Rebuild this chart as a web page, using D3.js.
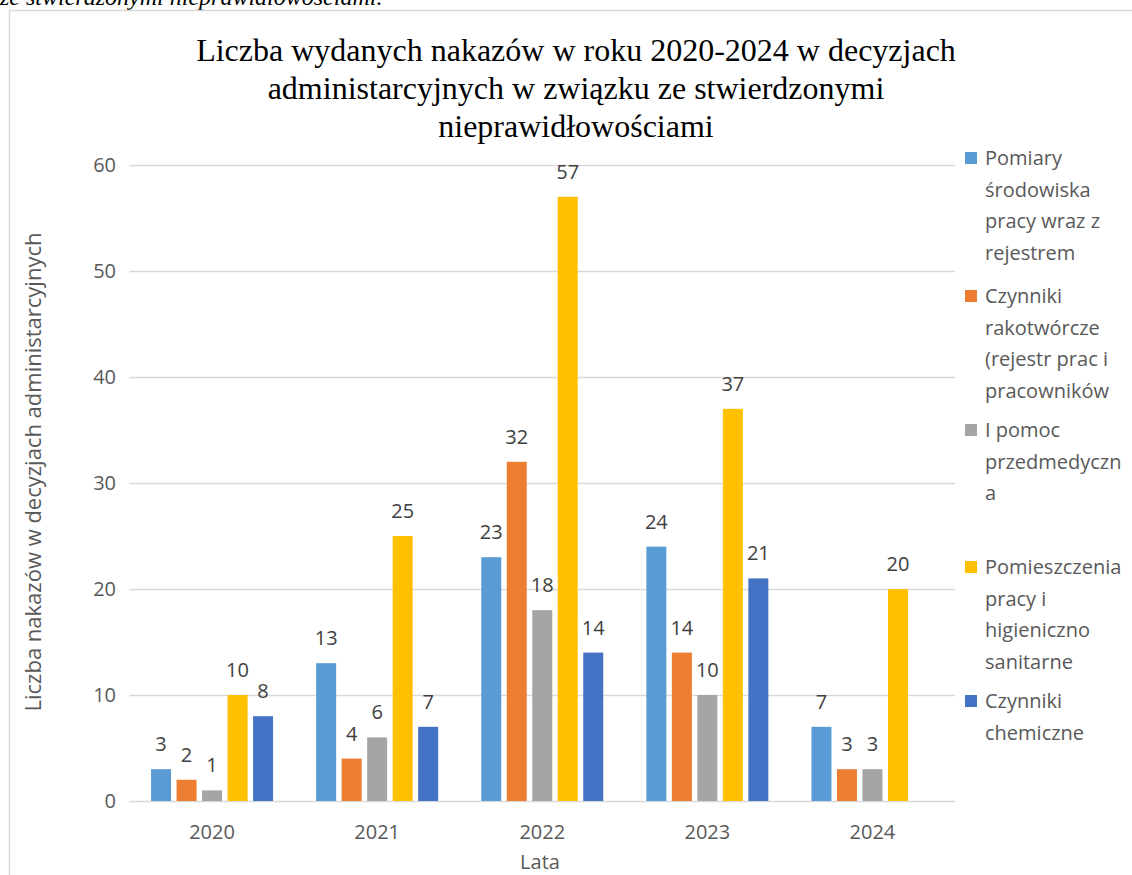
<!DOCTYPE html>
<html>
<head>
<meta charset="utf-8">
<script src="https://cdn.jsdelivr.net/npm/d3@7"></script>
<style>
body { margin: 0; background: #fff; }
svg { display: block; }
</style>
</head>
<body>
<div id="chart"></div>
<script>
// Data
var years = ["2020", "2021", "2022", "2023", "2024"];
var seriesNames = [
    ["Pomiary", "środowiska", "pracy wraz z", "rejestrem"],
    ["Czynniki", "rakotwórcze", "(rejestr prac i", "pracowników"],
    ["I pomoc", "przedmedyczn", "a"],
    ["Pomieszczenia", "pracy i", "higieniczno", "sanitarne"],
    ["Czynniki", "chemiczne"]
];
var pomiary = [3, 13, 23, 24, 7];
var rakotworcze = [2, 4, 32, 14, 3];
var pomoc = [1, 6, 18, 10, 3];
var pomieszczenia = [10, 25, 57, 37, 20];
var chemiczne = [8, 7, 14, 21, null];
var colors = ["#5B9BD5", "#ED7D31", "#A5A5A5", "#FFC000", "#4472C4"];
var yTicks = [0, 10, 20, 30, 40, 50, 60];

var series = [pomiary, rakotworcze, pomoc, pomieszczenia, chemiczne];

var W = 1132, H = 875;
var svg = d3.select("#chart").append("svg")
    .attr("width", W).attr("height", H);

var serif = "'Liberation Serif', 'Times New Roman', serif";
var font = "'Open Sans', 'DejaVu Sans', sans-serif";

// frame & clipped caption above the chart
svg.append("text")
    .attr("x", 0).attr("y", 5)
    .style("font-family", serif)
    .style("font-style", "italic")
    .style("font-size", "24px")
    .attr("fill", "#000")
    .text("ze stwierdzonymi nieprawidłowościami.");
svg.append("path")
    .attr("d", "M9.5," + H + "V10.5H" + W)
    .attr("fill", "none").attr("stroke", "#d9d9d9").attr("stroke-width", 1.5);

var left = 129.5, right = 955;
var x = d3.scaleBand().domain(years).range([left, right]);
var y = d3.scaleLinear().domain([0, 60]).range([801, 165]);

var barW = 20, step = 25.5;

// gridlines
svg.append("g").selectAll("line").data(yTicks).join("line")
    .attr("x1", left).attr("x2", right)
    .attr("y1", function(d){ return Math.round(y(d)) + 0.5; })
    .attr("y2", function(d){ return Math.round(y(d)) + 0.5; })
    .attr("stroke", "#d9d9d9").attr("stroke-width", 1.3);

// y ticks
svg.append("g").selectAll("text").data(yTicks).join("text")
    .attr("x", 116).attr("y", function(d){ return y(d); })
    .attr("dy", "0.35em").attr("text-anchor", "end")
    .style("font-family", font).style("font-size", "20px")
    .attr("fill", "#595959")
    .text(function(d){ return d; });

// x ticks
svg.append("g").selectAll("text").data(years).join("text")
    .attr("x", function(d){ return x(d) + x.bandwidth() / 2; })
    .attr("y", 832).attr("dy", "0.35em").attr("text-anchor", "middle")
    .style("font-family", font).style("font-size", "20px")
    .attr("fill", "#595959")
    .text(function(d){ return d; });

// bars
series.forEach(function(vals, si){
    var g = svg.append("g");
    var pts = years.map(function(yr, i){ return {yr: yr, v: vals[i]}; })
        .filter(function(p){ return p.v != null; });
    var bx = function(p){
        return x(p.yr) + x.bandwidth() / 2 + (si - 2) * step - barW / 2;
    };
    g.selectAll("rect").data(pts).join("rect")
        .attr("x", bx)
        .attr("y", function(p){ return y(p.v); })
        .attr("width", barW)
        .attr("height", function(p){ return y(0) - y(p.v); })
        .attr("fill", colors[si]);
    g.selectAll("text").data(pts).join("text")
        .attr("x", function(p){ return bx(p) + barW / 2; })
        .attr("y", function(p){ return y(p.v) - 25; })
        .attr("dy", "0.35em").attr("text-anchor", "middle")
        .style("font-family", font).style("font-size", "20px")
        .attr("fill", "#404040")
        .text(function(p){ return p.v; });
});

// title
var titleLines = ["Liczba wydanych nakazów w roku 2020-2024 w decyzjach",
                  "administarcyjnych w związku ze stwierdzonymi",
                  "nieprawidłowościami"];
svg.append("g").selectAll("text").data(titleLines).join("text")
    .attr("x", 576).attr("y", function(d, i){ return 50 + i * 38; })
    .attr("dy", "0.35em").attr("text-anchor", "middle")
    .style("font-family", serif)
    .style("font-size", "32px").attr("fill", "#000")
    .text(function(d){ return d; });

// axis titles
svg.append("text")
    .attr("transform", "translate(33,472) rotate(-90)")
    .attr("dy", "0.35em").attr("text-anchor", "middle")
    .style("font-family", font).style("font-size", "22px")
    .attr("fill", "#595959")
    .text("Liczba nakazów w decyzjach administarcyjnych");
svg.append("text")
    .attr("x", 540).attr("y", 862).attr("dy", "0.35em")
    .attr("text-anchor", "middle")
    .style("font-family", font).style("font-size", "20px")
    .attr("fill", "#595959")
    .text("Lata");

// legend
var legTop = [158, 296, 430, 567, 701];
var legend = svg.append("g");
seriesNames.forEach(function(lines, i){
    var g = legend.append("g");
    g.append("rect")
        .attr("x", 965).attr("y", legTop[i] - 6)
        .attr("width", 12).attr("height", 12)
        .attr("fill", colors[i]);
    g.selectAll("text").data(lines).join("text")
        .attr("x", 985).attr("y", function(d, j){ return legTop[i] + j * 31.5; })
        .attr("dy", "0.35em")
        .style("font-family", font).style("font-size", "20px")
        .attr("fill", "#595959")
        .text(function(d){ return d; });
});
</script>
</body>
</html>
